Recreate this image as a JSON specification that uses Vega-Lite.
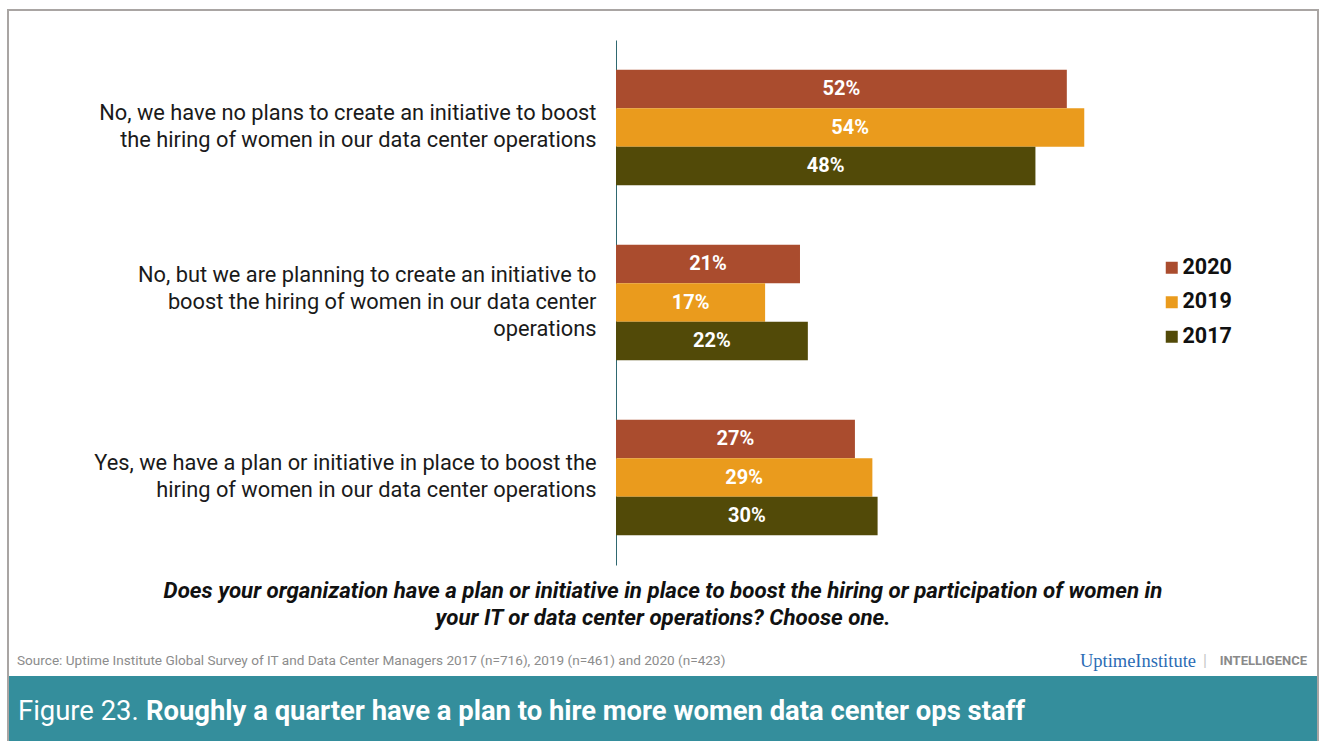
{
  "$schema": "https://vega.github.io/schema/vega-lite/v6.json",
  "width": 1310,
  "height": 731,
  "autosize": {"type": "none"},
  "padding": {"left": 8, "top": 10, "right": 6, "bottom": 0},
  "background": "white",
  "view": {"fill": "white", "stroke": "#A9A5A3", "strokeWidth": 2},
  "config": {"font": "Roboto"},
  "layer": [
    {
      "data": {
        "values": [
          {"cat": "No, we have no plans to create an initiative to boost\nthe hiring of women in our data center operations", "year": "2020", "value": 0.517},
          {"cat": "No, we have no plans to create an initiative to boost\nthe hiring of women in our data center operations", "year": "2019", "value": 0.537},
          {"cat": "No, we have no plans to create an initiative to boost\nthe hiring of women in our data center operations", "year": "2017", "value": 0.481},
          {"cat": "No, but we are planning to create an initiative to\nboost the hiring of women in our data center\noperations", "year": "2020", "value": 0.211},
          {"cat": "No, but we are planning to create an initiative to\nboost the hiring of women in our data center\noperations", "year": "2019", "value": 0.171},
          {"cat": "No, but we are planning to create an initiative to\nboost the hiring of women in our data center\noperations", "year": "2017", "value": 0.22},
          {"cat": "Yes, we have a plan or initiative in place to boost the\nhiring of women in our data center operations", "year": "2020", "value": 0.274},
          {"cat": "Yes, we have a plan or initiative in place to boost the\nhiring of women in our data center operations", "year": "2019", "value": 0.294},
          {"cat": "Yes, we have a plan or initiative in place to boost the\nhiring of women in our data center operations", "year": "2017", "value": 0.30}
        ]
      },
      "encoding": {
        "y": {
          "field": "cat",
          "type": "nominal",
          "sort": null,
          "scale": {"range": [30, 555], "paddingInner": 0.34, "paddingOuter": 0.17},
          "axis": {
            "title": null,
            "orient": "left",
            "offset": -608,
            "ticks": false,
            "tickSize": 0,
            "labelPadding": 20,
            "labelFont": "Roboto",
            "labelFontSize": 21.8,
            "labelColor": "#1A1A1A",
            "labelAlign": "right",
            "labelLimit": 700,
            "labelLineHeight": 27,
            "labelOffset": {"condition": {"test": "indexof(datum.value, 'planning') >= 0", "value": -28}, "value": -14.5},
            "labelExpr": "split(datum.label, '\\n')",
            "domainColor": "#2F6870",
            "domainWidth": 1,
            "grid": false
          }
        },
        "yOffset": {
          "field": "year",
          "type": "nominal",
          "sort": ["2020", "2019", "2017"],
          "scale": {"paddingInner": 0, "paddingOuter": 0}
        }
      },
      "layer": [
        {
          "mark": {"type": "bar"},
          "encoding": {
            "x": {
              "field": "value",
              "type": "quantitative",
              "scale": {"domain": [0, 0.6], "range": [608, 1131.2], "zero": true},
              "axis": null
            },
            "color": {
              "field": "year",
              "type": "nominal",
              "scale": {"domain": ["2020", "2019", "2017"], "range": ["#AA4C2E", "#EA9B1D", "#524A08"]},
              "legend": {
                "orient": "none",
                "legendX": 1153,
                "legendY": 247,
                "title": null,
                "padding": 0,
                "symbolType": "square",
                "symbolSize": 144,
                "symbolStrokeWidth": 0,
                "labelFont": "Roboto",
                "labelFontSize": 21.5,
                "labelFontWeight": "bold",
                "labelColor": "#111111",
                "labelOffset": 0,
                "rowPadding": 11.5
              }
            }
          }
        },
        {
          "mark": {"type": "text", "color": "white", "fontSize": 20, "fontWeight": "bold", "font": "Roboto", "align": "center", "baseline": "middle"},
          "encoding": {
            "x": {
              "field": "value",
              "type": "quantitative",
              "scale": {"domain": [0, 1.2], "range": [608, 1131.2], "zero": true},
              "axis": null
            },
            "text": {"field": "value", "type": "quantitative", "format": ".0%"}
          }
        }
      ],
      "resolve": {"scale": {"x": "independent"}}
    },
    {
      "data": {"values": [{"t": "Does your organization have a plan or initiative in place to boost the hiring or participation of women in\nyour IT or data center operations? Choose one."}]},
      "mark": {"type": "text", "font": "Roboto", "fontSize": 22.3, "fontWeight": "bold", "fontStyle": "italic", "lineBreak": "\n", "lineHeight": 27, "align": "center", "baseline": "middle", "color": "#111111"},
      "encoding": {"text": {"field": "t"}, "x": {"value": 655}, "y": {"value": 581}}
    },
    {
      "data": {"values": [{"t": "Source: Uptime Institute Global Survey of IT and Data Center Managers  2017 (n=716), 2019 (n=461)  and 2020 (n=423)"}]},
      "mark": {"type": "text", "font": "Roboto", "fontSize": 13.6, "align": "left", "baseline": "middle", "color": "#8C8C8C"},
      "encoding": {"text": {"field": "t"}, "x": {"value": 9}, "y": {"value": 651}}
    },
    {
      "data": {"values": [{"t": "UptimeInstitute"}]},
      "mark": {"type": "text", "font": "Liberation Serif", "fontSize": 18.5, "align": "right", "baseline": "middle", "color": "#2B6CB5"},
      "encoding": {"text": {"field": "t"}, "x": {"value": 1188}, "y": {"value": 651}}
    },
    {
      "data": {"values": [{"t": "|"}]},
      "mark": {"type": "text", "font": "Roboto", "fontSize": 16, "align": "center", "baseline": "middle", "color": "#C8C8C8"},
      "encoding": {"text": {"field": "t"}, "x": {"value": 1197}, "y": {"value": 651}}
    },
    {
      "data": {"values": [{"t": "INTELLIGENCE"}]},
      "mark": {"type": "text", "font": "Roboto", "fontSize": 13, "fontWeight": "bold", "align": "right", "baseline": "middle", "color": "#8A8A8A"},
      "encoding": {"text": {"field": "t"}, "x": {"value": 1299}, "y": {"value": 651}}
    },
    {
      "data": {"values": [{"t": "banner"}]},
      "mark": {"type": "rect", "color": "#348E9C"},
      "encoding": {"x": {"value": 1}, "x2": {"value": 1309}, "y": {"value": 666}, "y2": {"value": 731}}
    },
    {
      "data": {"values": [{"t": "Figure 23."}]},
      "mark": {"type": "text", "font": "Roboto", "fontSize": 27.4, "align": "left", "baseline": "middle", "color": "white"},
      "encoding": {"text": {"field": "t"}, "x": {"value": 10}, "y": {"value": 702}}
    },
    {
      "data": {"values": [{"t": "Roughly a quarter have a plan to hire more women data center ops staff"}]},
      "mark": {"type": "text", "font": "Roboto", "fontSize": 27.4, "fontWeight": "bold", "align": "left", "baseline": "middle", "color": "white"},
      "encoding": {"text": {"field": "t"}, "x": {"value": 138}, "y": {"value": 702}}
    }
  ]
}
